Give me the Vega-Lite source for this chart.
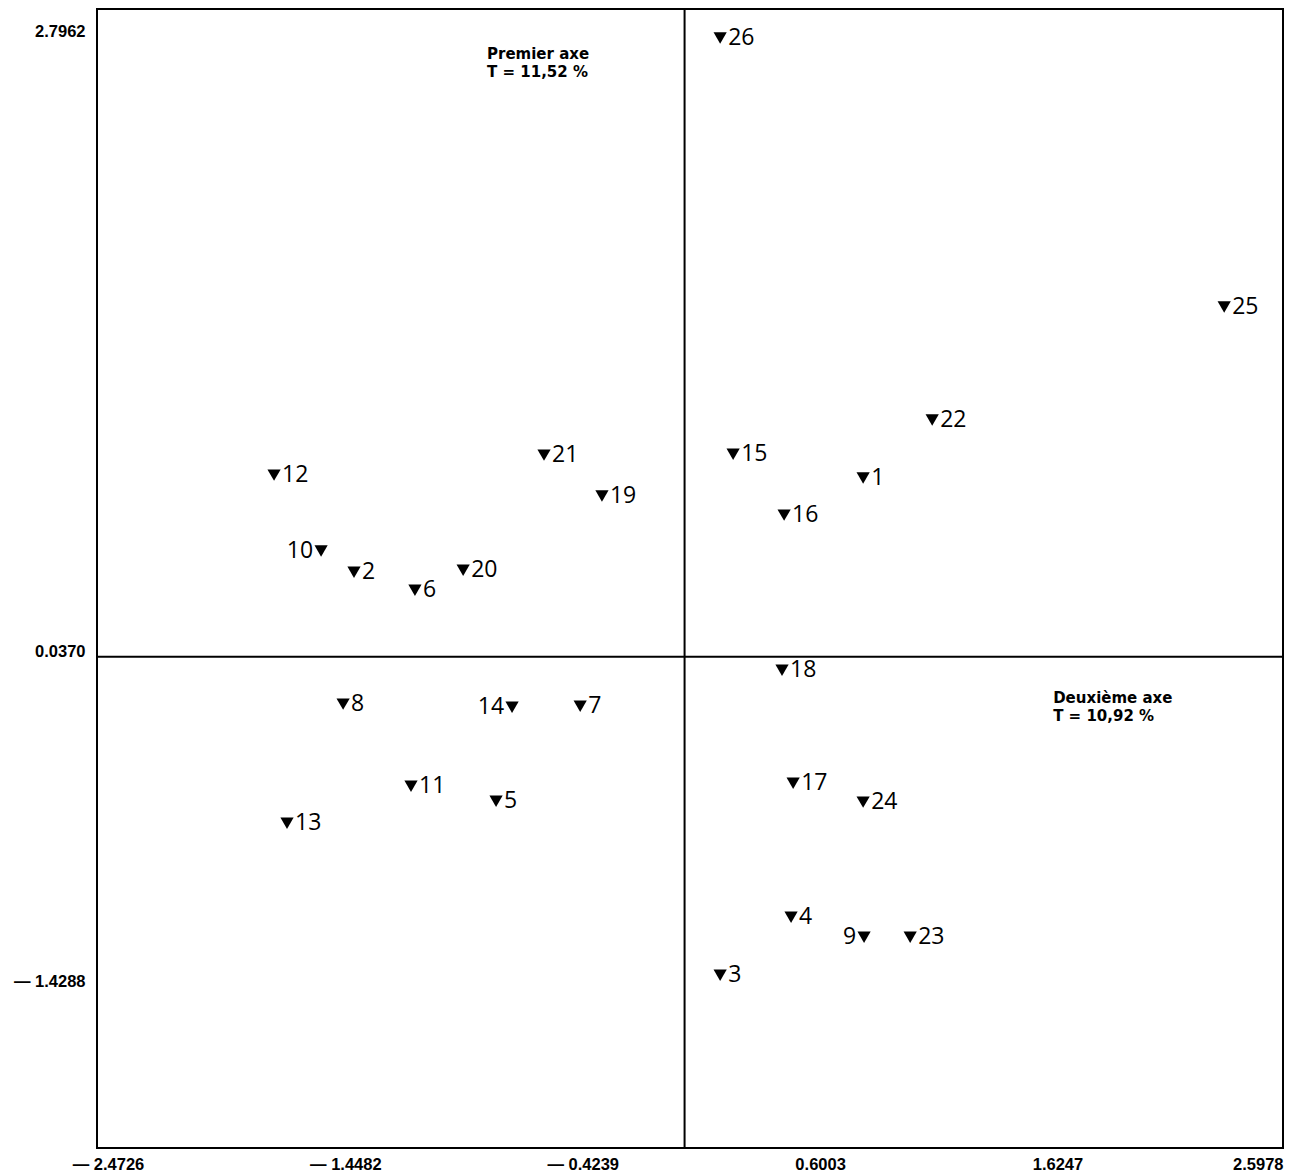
{
  "$schema": "https://vega.github.io/schema/vega-lite/v6.json",
  "width": 1186,
  "height": 1139,
  "autosize": {"type": "none"},
  "padding": {"left": 97, "top": 9, "right": 6, "bottom": 26},
  "background": "white",
  "config": {"view": {"stroke": "black", "strokeWidth": 2}},
  "datasets": {
    "points": [
      {"id": 1, "x": 0.786, "y": 0.832},
      {"id": 2, "x": -1.411, "y": 0.413},
      {"id": 3, "x": 0.169, "y": -1.380},
      {"id": 4, "x": 0.475, "y": -1.122},
      {"id": 5, "x": -0.798, "y": -0.606},
      {"id": 6, "x": -1.148, "y": 0.333},
      {"id": 7, "x": -0.435, "y": -0.183},
      {"id": 8, "x": -1.458, "y": -0.174},
      {"id": 9, "x": 0.790, "y": -1.211},
      {"id": 10, "x": -1.553, "y": 0.507},
      {"id": 11, "x": -1.165, "y": -0.539},
      {"id": 12, "x": -1.756, "y": 0.845},
      {"id": 13, "x": -1.700, "y": -0.704},
      {"id": 14, "x": -0.729, "y": -0.188},
      {"id": 15, "x": 0.225, "y": 0.938},
      {"id": 16, "x": 0.445, "y": 0.667},
      {"id": 17, "x": 0.484, "y": -0.526},
      {"id": 18, "x": 0.436, "y": -0.023},
      {"id": 19, "x": -0.341, "y": 0.752},
      {"id": 20, "x": -0.940, "y": 0.422},
      {"id": 21, "x": -0.591, "y": 0.934},
      {"id": 22, "x": 1.084, "y": 1.090},
      {"id": 23, "x": 0.989, "y": -1.211},
      {"id": 24, "x": 0.786, "y": -0.610},
      {"id": 25, "x": 2.344, "y": 1.593},
      {"id": 26, "x": 0.169, "y": 2.790}
    ],
    "cross": [{"x": 0.0155, "y": 0.037}],
    "notes": [
      {"x": -0.837, "y": 2.696, "text": "Premier axe\nT = 11,52 %"},
      {"x": 1.606, "y": -0.170, "text": "Deuxième axe\nT = 10,92 %"}
    ]
  },
  "layer": [
    {
      "data": {"name": "cross"},
      "mark": {"type": "rule", "color": "black", "strokeWidth": 2},
      "encoding": {
        "x": {"field": "x", "type": "quantitative", "scale": {"domain": [-2.52, 2.5978], "nice": false, "zero": false}}
      }
    },
    {
      "data": {"name": "cross"},
      "mark": {"type": "rule", "color": "black", "strokeWidth": 2},
      "encoding": {
        "y": {"field": "y", "type": "quantitative", "scale": {"domain": [-2.149, 2.919], "nice": false, "zero": false}}
      }
    },
    {
      "data": {"name": "points"},
      "mark": {"type": "point", "shape": "triangle-down", "filled": true, "color": "black", "opacity": 1, "size": 175},
      "encoding": {
        "x": {
          "field": "x", "type": "quantitative",
          "scale": {"domain": [-2.52, 2.5978], "nice": false, "zero": false},
          "axis": {
            "title": null, "domain": false, "ticks": false, "grid": false,
            "values": [-2.4726, -1.4482, -0.4239, 0.6003, 1.6247, 2.5978],
            "labelExpr": "datum.value < 0 ? '— ' + format(-datum.value, '.4f') : format(datum.value, '.4f')",
            "labelFont": "Liberation Sans", "labelFontWeight": "bold", "labelFontSize": 16.5,
            "labelColor": "black", "labelPadding": 8, "labelFlush": false,
            "labelOverlap": false,
            "labelAlign": {"condition": {"test": "datum.value > 2.5", "value": "right"}, "value": "center"}
          }
        },
        "y": {
          "field": "y", "type": "quantitative",
          "scale": {"domain": [-2.149, 2.919], "nice": false, "zero": false},
          "axis": {
            "title": null, "domain": false, "ticks": false, "grid": false,
            "values": [2.7962, 0.037, -1.4288],
            "labelExpr": "datum.value < 0 ? '— ' + format(-datum.value, '.4f') : format(datum.value, '.4f')",
            "labelFont": "Liberation Sans", "labelFontWeight": "bold", "labelFontSize": 16.5,
            "labelColor": "black", "labelPadding": 12, "labelBaseline": "alphabetic",
            "labelOverlap": false, "labelFlush": false
          }
        }
      }
    },
    {
      "data": {"name": "points"},
      "transform": [{"filter": "indexof([9, 10, 14], datum.id) < 0"}],
      "mark": {"type": "text", "align": "left", "baseline": "middle", "dx": 8, "font": "Open Sans", "fontSize": 23, "color": "black"},
      "encoding": {
        "x": {"field": "x", "type": "quantitative", "scale": {"domain": [-2.52, 2.5978], "nice": false, "zero": false}},
        "y": {"field": "y", "type": "quantitative", "scale": {"domain": [-2.149, 2.919], "nice": false, "zero": false}},
        "text": {"field": "id", "type": "nominal"}
      }
    },
    {
      "data": {"name": "points"},
      "transform": [{"filter": "indexof([9, 10, 14], datum.id) >= 0"}],
      "mark": {"type": "text", "align": "right", "baseline": "middle", "dx": -8, "font": "Open Sans", "fontSize": 23, "color": "black"},
      "encoding": {
        "x": {"field": "x", "type": "quantitative", "scale": {"domain": [-2.52, 2.5978], "nice": false, "zero": false}},
        "y": {"field": "y", "type": "quantitative", "scale": {"domain": [-2.149, 2.919], "nice": false, "zero": false}},
        "text": {"field": "id", "type": "nominal"}
      }
    },
    {
      "data": {"name": "notes"},
      "mark": {"type": "text", "align": "left", "baseline": "alphabetic", "lineBreak": "\n", "lineHeight": 18, "font": "DejaVu Sans", "fontWeight": "bold", "fontSize": 15, "color": "black"},
      "encoding": {
        "x": {"field": "x", "type": "quantitative", "scale": {"domain": [-2.52, 2.5978], "nice": false, "zero": false}},
        "y": {"field": "y", "type": "quantitative", "scale": {"domain": [-2.149, 2.919], "nice": false, "zero": false}},
        "text": {"field": "text", "type": "nominal"}
      }
    }
  ]
}
